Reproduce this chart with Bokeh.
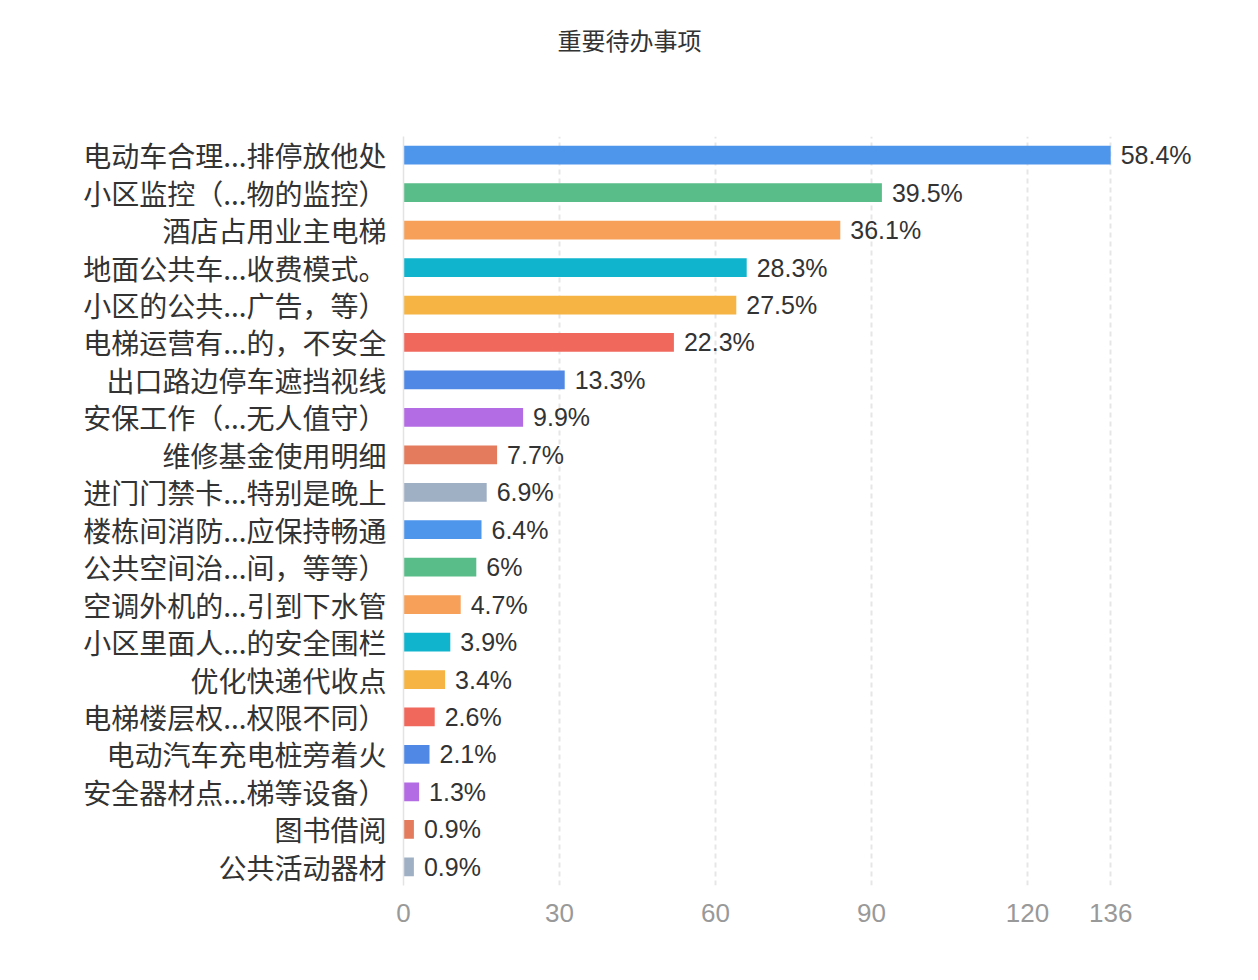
from bokeh.plotting import figure
from bokeh.models import ColumnDataSource, FactorRange, Range1d, FixedTicker, Title
from bokeh.core.properties import value
from bokeh.embed import file_html
from bokeh.resources import INLINE

title_text = "重要待办事项"
categories = [
    "电动车合理...排停放他处",
    "小区监控（...物的监控）",
    "酒店占用业主电梯",
    "地面公共车...收费模式。",
    "小区的公共...广告，等）",
    "电梯运营有...的，不安全",
    "出口路边停车遮挡视线",
    "安保工作（...无人值守）",
    "维修基金使用明细",
    "进门门禁卡...特别是晚上",
    "楼栋间消防...应保持畅通",
    "公共空间治...间，等等）",
    "空调外机的...引到下水管",
    "小区里面人...的安全围栏",
    "优化快递代收点",
    "电梯楼层权...权限不同）",
    "电动汽车充电桩旁着火",
    "安全器材点...梯等设备）",
    "图书借阅",
    "公共活动器材",
]
counts = [136, 92, 84, 66, 64, 52, 31, 23, 18, 16, 15, 14, 11, 9, 8, 6, 5, 3, 2, 2]
pct_labels = ["58.4%", "39.5%", "36.1%", "28.3%", "27.5%", "22.3%", "13.3%", "9.9%",
              "7.7%", "6.9%", "6.4%", "6%", "4.7%", "3.9%", "3.4%", "2.6%", "2.1%",
              "1.3%", "0.9%", "0.9%"]
x_ticks = [0, 30, 60, 90, 120, 136]
palette = ["#4e95ec", "#58bd88", "#f6a05a", "#10b5cd", "#f5b443",
           "#f0675c", "#5088e6", "#b46ce4", "#e47b5c", "#a0b0c4"]
colors = [palette[i % len(palette)] for i in range(len(categories))]

source = ColumnDataSource(dict(cat=categories, cnt=counts, pct=pct_labels, color=colors))

p = figure(
    width=1258, height=960,
    y_range=FactorRange(factors=list(reversed(categories))),
    x_range=Range1d(0, 155),
    output_backend="svg", toolbar_location=None,
    min_border_left=403, min_border_right=49, min_border_top=136, min_border_bottom=75,
)
p.outline_line_color = None

p.hbar(y="cat", right="cnt", left=0, height=0.5, color="color", source=source,
       line_color="color", line_alpha=0.0)
p.text(x="cnt", y="cat", text="pct", source=source, x_offset=10,
       text_baseline="middle", text_align="left",
       text_font=value("Liberation Sans"), text_font_size="25px", text_color="#333333")

# spacer panel between frame and title (added first -> closest to the frame)
spacer = Title(text=" ", standoff=75, text_font_size="1px")
p.add_layout(spacer, "above")

t = Title(text=title_text, align="left", offset=154, standoff=0, vertical_align="top",
          text_font="Noto Sans CJK SC", text_font_size="24px",
          text_font_style="normal", text_color="#333333")
p.add_layout(t, "above")

p.xaxis.ticker = FixedTicker(ticks=x_ticks)
p.xaxis.axis_line_color = None
p.xaxis.major_tick_line_color = None
p.xaxis.minor_tick_line_color = None
p.xaxis.major_label_text_color = "#999999"
p.xaxis.major_label_text_font = "Liberation Sans"
p.xaxis.major_label_text_font_size = "26px"
p.xaxis.major_label_standoff = 12

p.xgrid.ticker = FixedTicker(ticks=x_ticks[1:])
p.xgrid.grid_line_color = "#e6e6e6"
p.xgrid.grid_line_width = 2
p.xgrid.grid_line_dash = "5 4"
p.ygrid.grid_line_color = None

p.yaxis.axis_line_color = "#e3e3e3"
p.yaxis.axis_line_width = 1.5
p.yaxis.major_tick_line_color = None
p.yaxis.minor_tick_line_color = None
p.yaxis.major_label_text_color = "#333333"
p.yaxis.major_label_text_font = "Noto Sans CJK SC"
p.yaxis.major_label_text_font_size = "28px"
p.yaxis.major_label_standoff = 11

open("out.html", "w").write(file_html(p, INLINE))
